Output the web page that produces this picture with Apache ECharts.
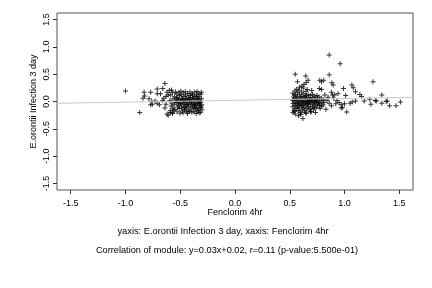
<!DOCTYPE html>
<html><head><meta charset="utf-8">
<script src="https://cdn.jsdelivr.net/npm/echarts@6/dist/echarts.min.js"></script>
<style>html,body{margin:0;padding:0;background:#fff}#c{width:432px;height:288px}</style>
</head><body><div id="c"></div>
<script>
const xTicks = [-1.5, -1.0, -0.5, 0.0, 0.5, 1.0, 1.5];
const yTicks = [-1.5, -1.0, -0.5, 0.0, 0.5, 1.0, 1.5];
const xTitle = 'Fenclorim 4hr';
const yTitle = 'E.orontii Infection 3 day';
const subtitle1 = 'yaxis: E.orontii Infection 3 day, xaxis: Fenclorim 4hr';
const subtitle2 = 'Correlation of module: y=0.03x+0.02, r=0.11 (p-value:5.500e-01)';
const fitLine = [[-1.625, -0.033], [1.625, 0.077]];

const leftSparse = [[-1.00,0.19],[-0.87,-0.20],[-0.83,0.17],[-0.77,0.17],[-0.84,0.06],[-0.825,0.10],[-0.785,0.05],[-0.71,0.23],[-0.66,0.24],[-0.64,0.33],[-0.71,0.14],[-0.68,0.14],[-0.755,-0.05],[-0.71,-0.03],[-0.73,0.01],[-0.62,-0.23],[-0.59,-0.20],[-0.56,-0.16],[-0.69,-0.06],[-0.66,0.02],[-0.63,0.09],[-0.61,0.12],[-0.63,-0.05],[-0.60,0.20],[-0.58,0.21],[-0.61,-0.25],[-0.57,-0.22],[-0.76,0.0],[-0.77,-0.06],[-0.65,0.06],[-0.62,0.17],[-0.64,-0.12]];

const leftCore = [
[-0.588,0.121],[-0.594,0.018],[-0.583,-0.081],[-0.591,-0.168],
[-0.571,0.158],[-0.566,0.047],[-0.575,-0.034],[-0.568,-0.122],[-0.572,-0.207],
[-0.552,0.088],[-0.547,0.004],[-0.556,-0.061],[-0.549,-0.148],[-0.544,0.176],
[-0.532,0.138],[-0.527,0.072],[-0.536,-0.018],[-0.523,-0.101],[-0.529,-0.187],[-0.521,0.031],
[-0.512,0.168],[-0.506,0.109],[-0.515,0.041],[-0.503,-0.043],[-0.509,-0.128],[-0.501,-0.216],[-0.514,-0.078],
[-0.492,0.127],[-0.486,0.058],[-0.495,0.012],[-0.483,-0.052],[-0.489,-0.113],[-0.481,-0.176],[-0.494,0.188],
[-0.472,0.162],[-0.466,0.091],[-0.475,0.027],[-0.463,-0.021],[-0.469,-0.087],[-0.461,-0.152],[-0.474,-0.206],
[-0.452,0.118],[-0.446,0.053],[-0.455,-0.008],[-0.443,-0.068],[-0.449,-0.133],[-0.441,-0.188],[-0.454,0.179],
[-0.432,0.147],[-0.426,0.081],[-0.435,0.018],[-0.423,-0.039],[-0.429,-0.098],[-0.421,-0.162],[-0.434,-0.218],
[-0.412,0.176],[-0.406,0.108],[-0.415,0.043],[-0.403,-0.012],[-0.409,-0.061],[-0.401,-0.121],[-0.414,-0.183],
[-0.392,0.141],[-0.386,0.069],[-0.395,0.003],[-0.383,-0.048],[-0.389,-0.092],[-0.381,-0.139],[-0.394,-0.198],
[-0.372,0.171],[-0.366,0.098],[-0.375,0.031],[-0.363,-0.027],[-0.369,-0.083],[-0.361,-0.128],[-0.374,-0.187],
[-0.352,0.123],[-0.346,0.061],[-0.355,0.009],[-0.343,-0.041],[-0.349,-0.108],[-0.341,-0.171],[-0.354,-0.219],[-0.347,0.183],
[-0.332,0.152],[-0.326,0.083],[-0.335,0.021],[-0.323,-0.019],[-0.329,-0.071],[-0.321,-0.118],[-0.334,-0.162],[-0.327,-0.208],
[-0.312,0.132],[-0.306,0.052],[-0.315,-0.011],[-0.303,-0.058],[-0.309,-0.103],[-0.301,-0.149],[-0.314,-0.197],[-0.307,0.171],
[-0.522,-0.012],[-0.497,-0.031],[-0.468,0.006],[-0.437,-0.055],[-0.418,0.022],[-0.398,-0.025],[-0.377,0.052],[-0.358,-0.064],[-0.338,0.042],[-0.318,0.014],
[-0.478,0.043],[-0.447,0.031],[-0.407,0.072],[-0.367,-0.052],[-0.327,-0.043],[-0.537,0.052],[-0.458,-0.111],[-0.388,0.118],[-0.348,0.093],[-0.313,-0.082]
];

const rightCore = [
[0.528,0.152],[0.534,0.081],[0.525,0.022],[0.531,-0.038],[0.527,-0.096],[0.536,-0.158],[0.529,-0.201],
[0.548,0.193],[0.553,0.118],[0.545,0.047],[0.551,-0.012],[0.547,-0.071],[0.556,-0.129],[0.543,-0.182],
[0.568,0.161],[0.573,0.089],[0.565,0.028],[0.571,-0.043],[0.567,-0.103],[0.576,-0.167],[0.563,0.222],
[0.588,0.131],[0.593,0.062],[0.585,0.004],[0.591,-0.057],[0.587,-0.118],[0.596,-0.191],[0.583,0.208],
[0.608,0.172],[0.613,0.098],[0.605,0.036],[0.611,-0.023],[0.607,-0.083],[0.616,-0.142],[0.603,-0.208],
[0.628,0.141],[0.633,0.071],[0.625,0.011],[0.631,-0.048],[0.627,-0.109],[0.636,-0.171],[0.623,0.248],
[0.648,0.188],[0.653,0.113],[0.645,0.052],[0.651,-0.008],[0.647,-0.066],[0.656,-0.128],[0.643,-0.197],
[0.668,0.124],[0.673,0.067],[0.665,0.021],[0.671,-0.036],[0.667,-0.091],[0.676,-0.151],
[0.688,0.109],[0.693,0.048],[0.685,-0.004],[0.691,-0.059],[0.687,-0.117],[0.696,-0.182],
[0.708,0.131],[0.713,0.071],[0.705,0.018],[0.711,-0.041],[0.707,-0.098],[0.716,-0.139],
[0.728,0.098],[0.733,0.041],[0.725,-0.013],[0.731,-0.068],[0.727,-0.121],
[0.748,0.112],[0.753,0.057],[0.745,0.003],[0.751,-0.052],[0.747,-0.104],
[0.768,0.083],[0.773,0.029],[0.765,-0.021],[0.771,-0.073],[0.777,-0.128],
[0.788,0.061],[0.793,0.008],[0.785,-0.041],[0.791,-0.089],
[0.808,0.034],[0.813,-0.018],[0.805,-0.062],
[0.538,0.021],[0.558,-0.042],[0.578,0.012],[0.598,-0.031],[0.618,0.003],[0.638,-0.021],[0.658,0.009],[0.678,-0.011],[0.698,0.023],[0.718,-0.016],
[0.738,0.012],[0.758,-0.028],[0.541,0.117],[0.561,0.061],[0.581,-0.081],[0.601,0.083],[0.621,-0.071],[0.641,0.098],[0.661,-0.048],[0.681,0.038]
];

const rightSparse = [[0.86,0.85],[0.96,0.69],[0.55,0.50],[0.646,0.467],[0.86,0.49],[0.57,0.36],[0.667,0.39],[0.65,0.35],[0.774,0.39],[0.81,0.39],[0.79,0.36],[0.884,0.345],[0.896,0.30],[1.26,0.36],[0.99,0.24],[1.067,0.30],[1.08,0.25],[1.10,0.18],[1.14,0.13],[1.155,0.09],[1.34,0.12],[1.18,0.01],[1.23,0.04],[1.28,0.02],[1.29,0.01],[1.34,-0.03],[1.38,0.0],[1.39,0.01],[1.41,-0.08],[1.47,-0.08],[1.51,-0.01],[1.02,-0.19],[0.97,-0.06],[0.97,-0.12],[0.83,-0.14],[0.735,-0.2],[0.62,-0.31],[0.55,-0.23],[1.24,-0.05],[1.10,0.01],[1.01,0.11],[0.98,-0.11],[1.05,-0.03],[1.07,-0.01],[1.00,-0.04],[0.93,0.02],[0.95,-0.02],[0.91,0.12],[0.88,0.17],[0.85,0.08],[0.90,0.06],[0.92,-0.04],[0.88,-0.08],[0.77,0.24],[0.79,0.22],[0.89,0.12],[0.94,0.14],[0.61,0.28],[0.63,0.31],[0.59,0.26],[0.66,0.22],[0.70,0.20],[0.84,0.02],[0.86,-0.03],[0.82,0.12],[0.58,-0.26],[0.60,-0.24],[0.65,-0.22],[0.69,-0.19]];

const FONT = '"Liberation Sans", Arial, Helvetica, sans-serif';
const plus = 'path://M2,0H3V2H5V3H3V5H2V3H0V2H2Z';
const chart = echarts.init(document.getElementById('c'), null, {renderer: 'canvas'});
const scatterStyle = {type: 'scatter', symbol: plus, symbolSize: 5, itemStyle: {color: '#000'}, silent: true, z: 2};
chart.setOption({
  animation: false,
  textStyle: {fontFamily: FONT},
  grid: {left: 57, right: 19, top: 13, bottom: 98, show: true, borderColor: '#555', borderWidth: 1, backgroundColor: 'transparent'},
  xAxis: {
    type: 'value', min: -1.625, max: 1.625,
    name: xTitle, nameLocation: 'middle', nameGap: 18, nameMoveOverlap: false,
    nameTextStyle: {fontSize: 9, color: '#000', fontFamily: FONT, verticalAlign: 'top'},
    axisLine: {show: false, onZero: false},
    axisTick: {show: true, inside: false, length: 4, customValues: xTicks, lineStyle: {color: '#333'}},
    axisLabel: {customValues: xTicks, fontSize: 9, color: '#000', margin: 9, fontFamily: FONT, formatter: v => v.toFixed(1)},
    splitLine: {show: false}
  },
  yAxis: {
    type: 'value', min: -1.62, max: 1.62,
    name: yTitle, nameLocation: 'middle', nameGap: 19, nameMoveOverlap: false,
    nameTextStyle: {fontSize: 9, color: '#000', fontFamily: FONT},
    axisLine: {show: false, onZero: false},
    axisTick: {show: true, inside: false, length: 4, customValues: yTicks, lineStyle: {color: '#333'}},
    axisLabel: {customValues: yTicks, fontSize: 9, color: '#000', margin: 6, rotate: 90, fontFamily: FONT, formatter: v => v.toFixed(1)},
    splitLine: {show: false}
  },
  graphic: [
    {type: 'text', x: 223, y: 231, style: {text: subtitle1, font: '9.3px ' + FONT, fill: '#000', textAlign: 'center', textVerticalAlign: 'middle'}},
    {type: 'text', x: 227, y: 250.5, style: {text: subtitle2, font: '9.2px ' + FONT, fill: '#000', textAlign: 'center', textVerticalAlign: 'middle'}}
  ],
  series: [
    Object.assign({data: leftSparse}, scatterStyle),
    Object.assign({data: leftCore}, scatterStyle),
    Object.assign({data: rightCore}, scatterStyle),
    Object.assign({data: rightSparse}, scatterStyle),
    {type: 'line', data: fitLine, symbol: 'none', silent: true, z: 3, lineStyle: {color: '#c8c8c8', width: 1}}
  ]
});
</script></body></html>
